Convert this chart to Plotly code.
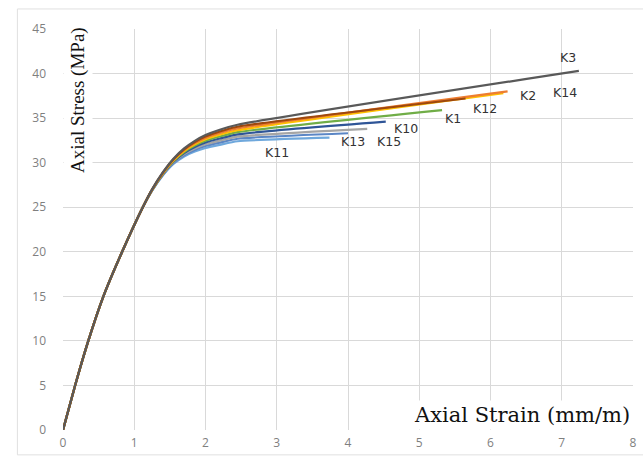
import plotly.graph_objects as go

# Common elastic branch (strain mm/m, stress MPa)
elastic_strain = [0.0, 0.17, 0.355, 0.567, 0.83, 1.12]
elastic_stress = [0.0, 5.0, 10.0, 15.0, 20.0, 25.0]

# Knee region per specimen
knee_strain = [1.25, 1.4, 1.55, 1.7, 1.85, 2.0, 2.2, 2.45]
k3_stress_knee = [27.0, 28.9, 30.45, 31.6, 32.45, 33.1, 33.7, 34.25]
k12_stress_knee = [26.98, 28.86, 30.38, 31.49, 32.31, 32.93, 33.5, 34.03]
k2_stress_knee = [26.97, 28.82, 30.32, 31.4, 32.19, 32.78, 33.33, 33.84]
k14_stress_knee = [26.95, 28.78, 30.25, 31.3, 32.05, 32.62, 33.14, 33.64]
k1_stress_knee = [26.93, 28.74, 30.18, 31.19, 31.91, 32.45, 32.93, 33.42]
k10_stress_knee = [26.91, 28.7, 30.1, 31.08, 31.75, 32.26, 32.71, 33.18]
k15_stress_knee = [26.89, 28.65, 30.02, 30.95, 31.59, 32.06, 32.48, 32.92]
k13_stress_knee = [26.87, 28.6, 29.94, 30.83, 31.43, 31.87, 32.25, 32.68]
k11_stress_knee = [26.85, 28.55, 29.85, 30.7, 31.25, 31.65, 32.0, 32.4]

# Final (ultimate) points
end_strain = {"K3": 7.24, "K12": 5.65, "K2": 6.24, "K14": 6.18, "K1": 5.32,
              "K10": 4.53, "K15": 4.27, "K13": 4.0, "K11": 3.74}
end_stress = {"K3": 40.3, "K12": 37.2, "K2": 38.0, "K14": 37.8, "K1": 35.9,
              "K10": 34.6, "K15": 33.8, "K13": 33.3, "K11": 32.8}

series_names = ["K11", "K13", "K15", "K10", "K1", "K14", "K2", "K12", "K3"]
series_knee = [k11_stress_knee, k13_stress_knee, k15_stress_knee, k10_stress_knee,
               k1_stress_knee, k14_stress_knee, k2_stress_knee, k12_stress_knee,
               k3_stress_knee]
series_colors = ["#6FA8DC", "#5B86C5", "#A5A5A5", "#2F5597", "#70AD47",
                 "#FFC000", "#ED7D31", "#9E480E", "#595959"]

# Label positions (data coordinates)
label_text = ["K3", "K14", "K2", "K12", "K1", "K10", "K15", "K13", "K11"]
label_x = [7.09, 7.04, 6.52, 5.92, 5.47, 4.82, 4.57, 4.07, 3.0]
label_y = [41.75, 37.9, 37.5, 36.1, 35.0, 33.8, 32.4, 32.4, 31.1]

fig = go.Figure()
for name, ks, c in zip(series_names, series_knee, series_colors):
    xs = elastic_strain + knee_strain + [end_strain[name]]
    ys = elastic_stress + ks + [end_stress[name]]
    fig.add_trace(go.Scatter(
        x=xs, y=ys, mode="lines",
        line=dict(color=c, width=2.2, shape="spline", smoothing=0.6),
        name=name, showlegend=False, hoverinfo="name"))

for t, x, y in zip(label_text, label_x, label_y):
    fig.add_annotation(x=x, y=y, text=t, showarrow=False,
                       font=dict(family="DejaVu Sans, sans-serif",
                                 size=12.5, color="#333333"))

# Axis titles inside the plot
fig.add_annotation(xref="paper", yref="paper", x=0.0, y=1.015,
                   xanchor="left", yanchor="top",
                   text="Axial Stress (MPa)", textangle=-90, showarrow=False,
                   bgcolor="white", borderpad=3,
                   font=dict(family="Liberation Serif, Times New Roman, serif",
                             size=19, color="#111111"))
fig.add_annotation(xref="paper", yref="paper", x=1.0, y=0.0,
                   xanchor="right", yanchor="bottom",
                   text="Axial Strain (mm/m)", showarrow=False,
                   bgcolor="white", borderpad=2,
                   font=dict(family="DejaVu Serif, serif",
                             size=21, color="#111111"))

# Light outer frame
fig.add_shape(type="rect", xref="paper", yref="paper",
              x0=-0.08, x1=1.02, y0=-0.062, y1=1.05,
              line=dict(color="#E0E0E0", width=1), layer="below")

fig.update_xaxes(range=[0, 8], dtick=1, showgrid=True, gridcolor="#D9D9D9",
                 gridwidth=1, zeroline=False, showline=False, automargin=False,
                 tickfont=dict(family="Open Sans, Liberation Sans, sans-serif",
                               size=12, color="#7F7F7F"),
                 ticklabelstandoff=4)
fig.update_yaxes(range=[0, 45], dtick=5, showgrid=True, gridcolor="#D9D9D9",
                 gridwidth=1, zeroline=False, showline=False, automargin=False,
                 tickfont=dict(family="Open Sans, Liberation Sans, sans-serif",
                               size=12, color="#7F7F7F"),
                 ticklabelstandoff=16)
fig.update_layout(width=643, height=459,
                  margin=dict(l=63, r=10, t=29, b=29),
                  plot_bgcolor="white", paper_bgcolor="white")
fig.write_html("out.html", config={"displayModeBar": False},
               post_script="document.body.style.margin='0';"
                           "document.body.style.overflow='hidden';")
